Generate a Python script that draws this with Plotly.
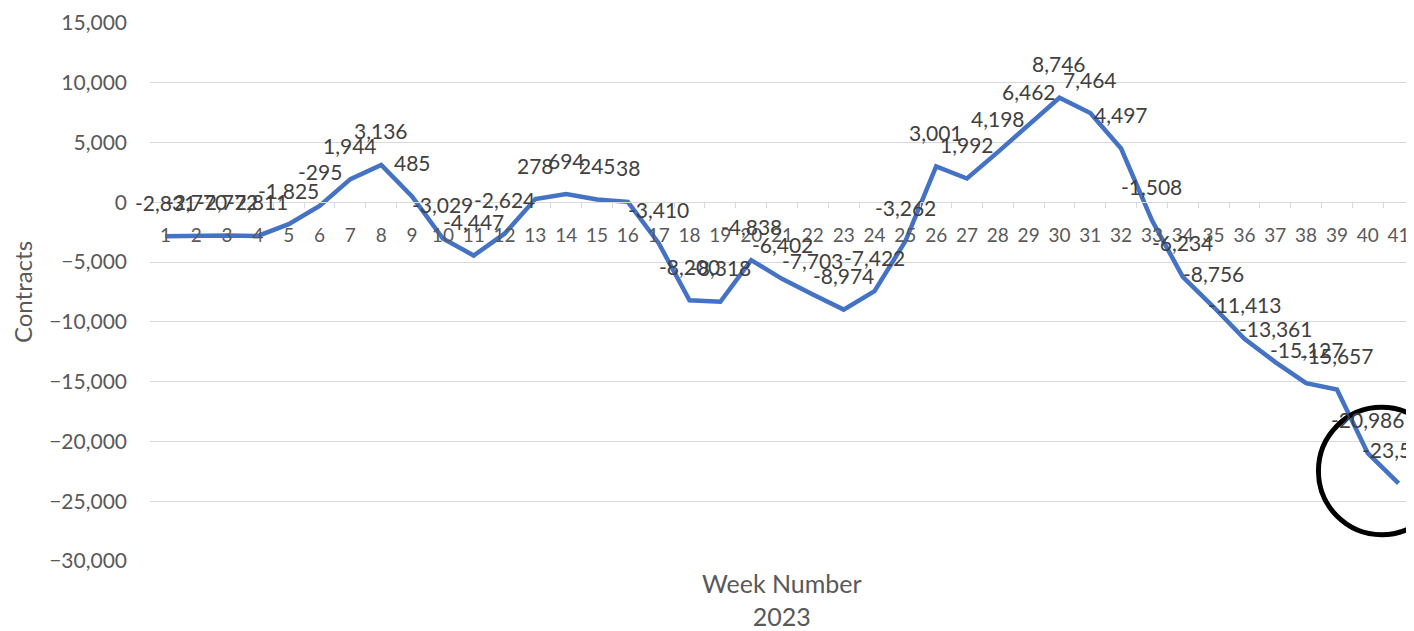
import plotly.graph_objects as go

weeks = list(range(1, 42))
contracts = [
    -2831, -2770, -2772, -2811, -1825, -295, 1944, 3136, 485, -3029,
    -4447, -2624, 278, 694, 245, 38, -3410, -8200, -8318, -4838,
    -6402, -7703, -8974, -7422, -3262, 3001, 1992, 4198, 6462, 8746,
    7464, 4497, -1508, -6234, -8756, -11413, -13361, -15127, -15657, -20986,
    -23503,
]
y_ticks = list(range(-30000, 15001, 5000))

LINE = "#4472C4"
GREY = "#595959"
FONT = "Lato, 'Open Sans', sans-serif"

fig = go.Figure()
fig.add_trace(
    go.Scatter(
        x=weeks,
        y=contracts,
        mode="lines",
        line=dict(color=LINE, width=4.5),
        hoverinfo="skip",
    )
)

# data labels above each point
for w, v in zip(weeks, contracts):
    fig.add_annotation(
        x=w, y=v, text=f"{v:,}", showarrow=False, yshift=34,
        font=dict(family=FONT, size=21, color="#404040"),
    )

# x axis crosses at zero
y_min, y_max = -30000, 15000
zero_pos = (0 - y_min) / (y_max - y_min)

# page body has an 8px margin, so the figure is a little smaller
fig.update_layout(
    width=1406,
    height=623,
    margin=dict(l=142, r=0, t=15, b=70),
    plot_bgcolor="white",
    paper_bgcolor="white",
    showlegend=False,
    font=dict(family=FONT, color=GREY),
    xaxis=dict(
        range=[weeks[0] - 0.5, weeks[-1] + 0.5],
        tickvals=weeks,
        tickangle=0,
        anchor="free",
        position=zero_pos,
        showgrid=False,
        zeroline=False,
        showline=True,
        linecolor="#d9d9d9",
        linewidth=1,
        ticks="",
        tickfont=dict(size=19, color=GREY),
        ticklabelstandoff=16,
        # tick marks sit between the weeks
        minor=dict(
            tickvals=[w + 0.5 for w in weeks[:-1]],
            ticks="outside",
            ticklen=5,
            tickcolor="#d9d9d9",
            showgrid=False,
        ),
    ),
    yaxis=dict(
        range=[y_min, y_max],
        tickvals=y_ticks,
        tickformat=",",
        showgrid=True,
        gridcolor="#d9d9d9",
        gridwidth=1,
        zeroline=False,
        tickfont=dict(size=21, color=GREY),
        ticklabelstandoff=22,
        title=dict(text="Contracts", font=dict(size=24, color=GREY), standoff=14),
    ),
)

fig.add_annotation(
    xref="paper", yref="paper", x=0.5, y=-0.01, yanchor="top",
    text="Week Number<br>2023", showarrow=False,
    font=dict(family=FONT, size=25, color=GREY),
)

# highlight circle at the end of the series
fig.add_shape(
    type="circle", xref="x", yref="y",
    x0=38.4, x1=42.5, y0=-27800, y1=-17150,
    line=dict(color="black", width=5),
)

fig.write_html("out.html")
